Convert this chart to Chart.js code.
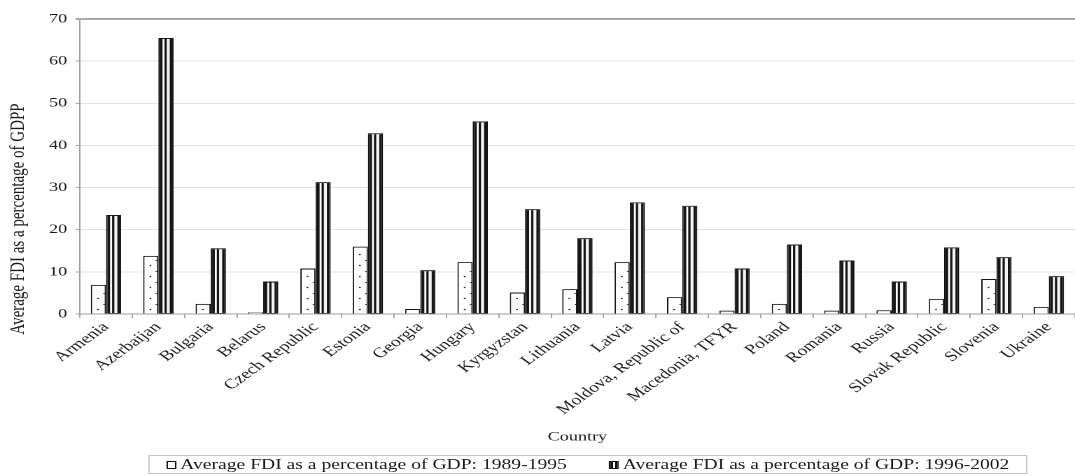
<!DOCTYPE html>
<html><head><meta charset="utf-8">
<script src="https://cdn.jsdelivr.net/npm/chart.js@4.4.1/dist/chart.umd.min.js"></script>
<style>
html,body{margin:0;padding:0;background:#fff;overflow:hidden;}
#wrap{position:absolute;left:0;top:0;width:768px;height:476px;transform:scaleX(1.39974);transform-origin:0 0;}
#legend{position:absolute;left:105.7px;top:455px;width:628.6px;height:19px;box-sizing:border-box;border:1px solid #c4c4c4;display:flex;align-items:center;justify-content:center;gap:30px;font:14px 'Liberation Serif','Times New Roman',serif;color:#1a1a1a;white-space:nowrap;}
.item{display:flex;align-items:center;gap:3px}
.mk{display:inline-block;width:7px;height:8px;box-sizing:border-box;border:1px solid #111;background:#fff}
.mk2{background:linear-gradient(to right,#111 0 38%,#fff 38% 62%,#111 62% 100%)}
</style></head>
<body><div id="wrap"><canvas id="c" width="768" height="476"></canvas><div id="legend"></div></div>
<script>
const categories = ['Armenia','Azerbaijan','Bulgaria','Belarus','Czech Republic','Estonia','Georgia','Hungary','Kyrgyzstan','Lithuania','Latvia','Moldova, Republic of','Macedonia, TFYR','Poland','Romania','Russia','Slovak Republic','Slovenia','Ukraine'];
const fdi1989_1995 = [6.9, 13.8, 2.4, 0.4, 10.8, 16.0, 1.2, 12.3, 5.1, 5.9, 12.3, 4.0, 0.8, 2.4, 0.8, 0.9, 3.6, 8.3, 1.7];
const fdi1996_2002 = [23.5, 65.5, 15.6, 7.7, 31.3, 42.9, 10.4, 45.7, 24.9, 18.0, 26.5, 25.7, 10.8, 16.5, 12.7, 7.7, 15.8, 13.5, 9.0];
const seriesNames = ['Average FDI as a percentage of GDP: 1989-1995','Average FDI as a percentage of GDP: 1996-2002'];
const yTitle = 'Average FDI as a percentage of GDPP';
const xTitle = 'Country';

const FONT = "'Liberation Serif','Times New Roman',serif";
const TXT = '#1a1a1a';

// HTML legend
const lg = document.getElementById('legend');
seriesNames.forEach((n,i)=>{
  const it = document.createElement('span'); it.className='item';
  const mk = document.createElement('span'); mk.className = 'mk' + (i===1?' mk2':'');
  const tx = document.createElement('span'); tx.textContent = n;
  it.appendChild(mk); it.appendChild(tx); lg.appendChild(it);
});

const barDeco = {
  id:'barDeco',
  afterDatasetsDraw(chart){
    const ctx = chart.ctx;
    ctx.save();
    chart.getDatasetMeta(1).data.forEach(bar=>{
      const p = bar.getProps(['x','y','base','width'], true);
      const l = p.x - p.width/2, h = p.base - p.y;
      if (h <= 2) return;
      ctx.fillStyle = '#ffffff';
      ctx.fillRect(l + p.width*0.27, p.y+1, p.width*0.13, h-1.5);
      ctx.fillStyle = '#f4f4f4';
      ctx.fillRect(l + p.width*0.55, p.y+1, p.width*0.2, h-1.5);
    });
    chart.getDatasetMeta(0).data.forEach(bar=>{
      const p = bar.getProps(['x','y','base','width'], true);
      const l = p.x - p.width/2;
      ctx.fillStyle = '#222';
      for (let yy = p.base - 4; yy > p.y + 4; yy -= 11) {
        ctx.fillRect(l + p.width*0.42, yy-0.6, 1.2, 1.2);
        if (yy - 5.5 > p.y + 3) ctx.fillRect(p.x + p.width/2 - 2, yy-5.5, 1.4, 0.8);
      }
    });
    ctx.restore();
  },
  afterDraw(chart){
    const ctx = chart.ctx;
    ctx.save();
    ctx.translate(12.9, 219);
    ctx.rotate(-Math.PI/2);
    ctx.font = "15px " + FONT;
    ctx.fillStyle = TXT;
    ctx.textAlign = 'center';
    ctx.textBaseline = 'middle';
    ctx.fillText(yTitle, 0, 0);
    ctx.restore();
  }
};

new Chart(document.getElementById('c'), {
  type:'bar',
  data:{
    labels: categories,
    datasets:[
      {label: seriesNames[0], data: fdi1989_1995, backgroundColor:'#ffffff', borderColor:'#151515', borderWidth:1, borderSkipped:'bottom'},
      {label: seriesNames[1], data: fdi1996_2002, backgroundColor:'#151515', borderColor:'#151515', borderWidth:1, borderSkipped:'bottom'}
    ]
  },
  options:{
    responsive:false,
    devicePixelRatio:2,
    animation:false,
    layout:{padding:{top:19,right:0,bottom:28,left:0}},
    datasets:{bar:{categoryPercentage:0.58, barPercentage:1.0}},
    plugins:{legend:{display:false}, tooltip:{enabled:false}},
    scales:{
      x:{
        grid:{offset:true, drawOnChartArea:false, drawTicks:true, tickLength:4, color:'#a8a8a8', tickColor:'#a8a8a8'},
        border:{color:'#9c9c9c'},
        ticks:{minRotation:45, maxRotation:45, autoSkip:false, font:{family:FONT, size:14}, color:TXT, padding:1},
        title:{display:true, text:xTitle, font:{family:FONT, size:13}, color:TXT, padding:{top:0,bottom:3}},
        afterFit(s){ s.height = 134; }
      },
      y:{
        min:0, max:70,
        ticks:{stepSize:10, font:{family:FONT, size:13}, color:TXT, padding:6},
        grid:{
          color:(c)=> c.tick && c.tick.value===70 ? '#a8a8a8' : '#e2e2e2',
          lineWidth:(c)=> c.tick && c.tick.value===70 ? 2 : 1,
          tickLength:3, tickColor:'#a8a8a8'
        },
        border:{color:'#9c9c9c'},
        afterFit(s){ s.width = 57; }
      }
    }
  },
  plugins:[barDeco]
});
</script>
</body></html>
